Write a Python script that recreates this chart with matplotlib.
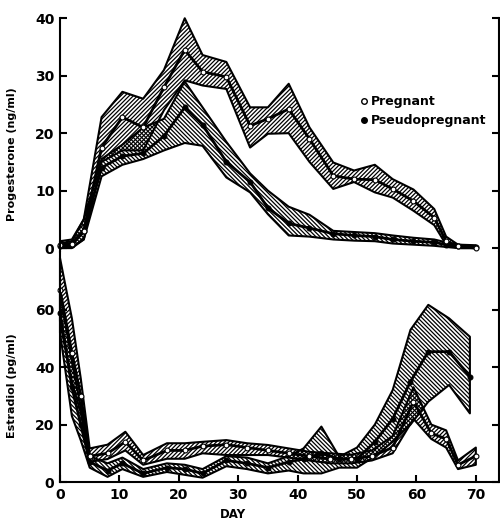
import numpy as np
import matplotlib
matplotlib.use('Agg')
from matplotlib import pyplot as plt
from matplotlib.lines import Line2D

# progesterone (ng/ml), both groups share the sampling days
prog_days = [0, 2, 4, 7, 10.5, 14, 17.5, 21, 24, 28, 32, 35, 38.5, 42, 46, 49.5, 53, 56, 59.5, 63, 65, 67, 70]
prog_preg = [0.5, 0.8, 3, 17.5, 22.8, 21, 28, 34.5, 30.7, 29.8, 21.3, 22.5, 24.2, 19, 12.6, 12, 11.9, 10.3, 8.2, 5.3, 1.2, 0.3, 0]
prog_preg_hi = [1.2, 1.5, 5, 22.8, 27.2, 26, 31, 40, 33.6, 32.4, 24.5, 24.5, 28.6, 21, 14.9, 13.5, 14.5, 12, 10.2, 6.8, 2, 0.6, 0.3]
prog_preg_lo = [0, 0.2, 1.5, 15, 17, 17, 24, 29.2, 28.3, 27.7, 17.5, 19.9, 20, 15, 10.3, 11.5, 9.7, 8.8, 6.5, 4, 0.6, 0, 0]
prog_pseudo = [0.3, 0.5, 3, 14, 16, 16.5, 19.5, 24.5, 21.5, 15, 11.5, 7, 4.3, 3.5, 2.5, 2.2, 2, 1.5, 1.2, 1, 0.6, 0.3, 0.2]
prog_pseudo_hi = [0.8, 1.2, 5, 15.5, 18, 21, 22.5, 29, 24.5, 18.5, 13, 10, 7.2, 5.8, 3, 2.8, 2.6, 2.2, 1.8, 1.5, 1, 0.6, 0.5]
prog_pseudo_lo = [0, 0, 1.5, 12.5, 14.5, 15.5, 17, 18.3, 17.8, 12.3, 9.7, 5.9, 2.2, 2, 1.5, 1.3, 1.2, 0.8, 0.6, 0.4, 0.2, 0, 0]

# estradiol (pg/ml)
est_days_preg = [0, 2, 3.5, 5, 8, 11, 14, 18, 21, 24, 28, 31.5, 35, 38.5, 42, 45.5, 49, 52.5, 56, 59.5, 62.5, 65, 67, 70]
est_preg = [67, 45, 30, 9, 10, 14, 7.5, 11, 11, 12.5, 13, 12, 11, 10, 9, 8, 8, 9, 12, 28, 17, 15, 6, 9]
est_preg_hi = [78, 57, 36, 11.7, 13, 17.5, 9.4, 13.5, 13.5, 14, 14.6, 13.5, 12.9, 11.7, 10.5, 10, 9.5, 11, 16, 33, 20, 18, 7.5, 12]
est_preg_lo = [56, 35, 24, 7, 8, 11, 6, 8.1, 8.1, 10, 9.4, 9.4, 9.4, 8.5, 7.5, 6.5, 6.5, 7.5, 10, 22, 15, 12, 4.5, 6]

est_days_pseudo = [0, 2, 3.5, 5, 8, 10.5, 14, 18, 21, 24, 28, 31.5, 35, 38.5, 41, 44, 47, 50, 53, 56, 59, 62, 65.5, 69]
est_pseudo = [59, 33, 20, 7, 4, 6.5, 3, 5, 4.5, 3, 7.5, 6.5, 5, 7, 8, 10, 8, 8, 14, 22, 35, 45.4, 45.4, 36.7]
est_pseudo_hi = [66, 42, 26, 9, 6.5, 8.5, 4.5, 6.5, 6, 4.5, 9, 8.5, 6.5, 9, 11.7, 19.3, 8.8, 12, 20, 32, 53, 61.7, 57, 50.6]
est_pseudo_lo = [52, 23, 14.5, 5, 1.8, 4.5, 1.8, 3.5, 2.5, 1.5, 5.5, 4.5, 3, 4, 3, 3, 5, 5, 9, 14, 20, 28, 33.8, 23.9]

plt.rcParams['font.family'] = 'DejaVu Sans'
plt.rcParams['font.weight'] = 'bold'
plt.rcParams['hatch.linewidth'] = 0.9

fig = plt.figure(figsize=(5, 5.22), dpi=100)
ax1 = fig.add_axes([0.12, 0.517, 0.878, 0.448])
ax2 = fig.add_axes([0.12, 0.0766, 0.878, 0.4406])


def band(ax, days, mean, lo, hi, hatch, filled):
    ax.fill_between(days, lo, hi, facecolor='none', edgecolor='black',
                    hatch=hatch, linewidth=1.5, clip_on=False)
    ax.plot(days, mean, color='black', lw=2, marker='o', ms=3.5,
            mfc='black' if filled else 'white', mec='black', mew=0.8, clip_on=False)


band(ax1, prog_days, prog_pseudo, prog_pseudo_lo, prog_pseudo_hi, '\\' * 8, True)
band(ax1, prog_days, prog_preg, prog_preg_lo, prog_preg_hi, '/' * 8, False)
band(ax2, est_days_pseudo, est_pseudo, est_pseudo_lo, est_pseudo_hi, '\\' * 8, True)
band(ax2, est_days_preg, est_preg, est_preg_lo, est_preg_hi, '/' * 8, False)

for ax in (ax1, ax2):
    ax.set_xlim(0, 73.9)
    ax.spines['top'].set_visible(False)
    ax.spines['left'].set_linewidth(1.5)
    ax.spines['right'].set_linewidth(1.5)
    ax.tick_params(direction='in', length=5, width=1.5, labelsize=10,
                   right=True, pad=4)

ax1.set_ylim(-0.7, 40)
ax1.set_yticks([0, 10, 20, 30, 40])
ax1.spines['bottom'].set_visible(False)
ax1.tick_params(axis='x', bottom=False, labelbottom=False)

ax2.set_ylim(0, 80.1)
ax2.set_yticks([0, 20, 40, 60])
ax2.set_xticks(range(0, 71, 10))
ax2.spines['bottom'].set_linewidth(1.5)

ax1.set_ylabel('Progesterone (ng/ml)', fontsize=8, fontweight='bold')
ax1.yaxis.set_label_coords(-0.098, 0.42)
ax2.set_ylabel('Estradiol (pg/ml)', fontsize=8, fontweight='bold')
ax2.yaxis.set_label_coords(-0.098, 0.42)
ax2.set_xlabel('DAY', fontsize=8.5, fontweight='bold')
ax2.xaxis.set_label_coords(0.395, -0.115)

handles = [Line2D([], [], ls='none', marker='o', ms=4, mfc='white', mec='black'),
           Line2D([], [], ls='none', marker='o', ms=4, mfc='black', mec='black')]
ax1.legend(handles, ['Pregnant', 'Pseudopregnant'], loc='upper left',
           bbox_to_anchor=(0.655, 0.72), frameon=False, handletextpad=0.2,
           handlelength=0.8, fontsize=9, labelspacing=0.5)

fig.savefig('out.png', dpi=100)
